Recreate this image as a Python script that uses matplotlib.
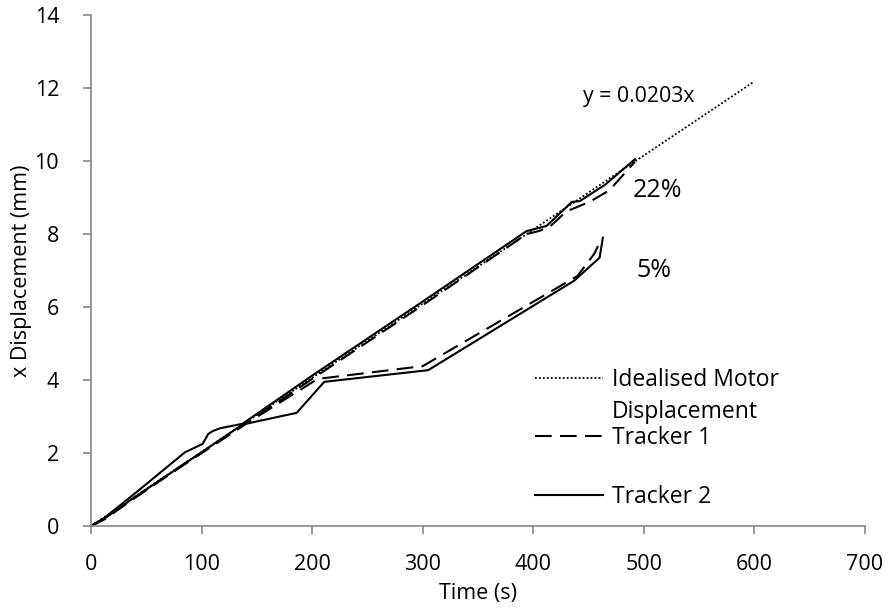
import numpy as np
import matplotlib.pyplot as plt

plt.rcParams["font.family"] = ["Open Sans", "DejaVu Sans"]

# idealised motor travel: y = 0.0203 x
slope = 0.0203
t_ideal = np.array([0, 600])

# run reaching 22% (upper) and run reaching 5% (lower), per tracker
t1_22 = [0, 12, 40, 85, 100, 115, 140, 200, 300, 394, 405, 415, 430, 451, 469, 492]
d1_22 = [0, 0.2, 0.78, 1.72, 2.0, 2.3, 2.8, 4.03, 6.05, 8.0, 8.08, 8.2, 8.62, 8.88, 9.2, 9.98]
t2_22 = [0, 12, 40, 85, 101, 106, 110, 117, 137, 200, 300, 394, 412, 435, 442, 465, 492]
d2_22 = [0, 0.22, 0.9, 2.02, 2.25, 2.52, 2.6, 2.68, 2.8, 4.12, 6.15, 8.08, 8.22, 8.88, 8.9, 9.35, 10.05]

t1_5 = [0, 12, 40, 100, 140, 205, 300, 440, 455, 462]
d1_5 = [0, 0.18, 0.78, 2.0, 2.8, 4.03, 4.38, 6.85, 7.45, 7.88]
t2_5 = [0, 12, 40, 100, 137, 186, 211, 305, 437, 460, 463]
d2_5 = [0, 0.2, 0.8, 2.02, 2.78, 3.1, 3.95, 4.27, 6.72, 7.35, 7.9]

fig, ax = plt.subplots(figsize=(8.88, 6.12), dpi=100)
fig.subplots_adjust(left=0.1025, right=0.974, bottom=0.1405, top=0.9755)

ax.plot(t_ideal, slope * t_ideal, color="black", lw=1.3, linestyle=(0, (1, 1.2)),
        label="Idealised Motor")
dash = (0, (8, 4))
ax.plot(t1_22, d1_22, color="black", lw=1.5, linestyle=dash, label="Tracker 1")
ax.plot(t1_5, d1_5, color="black", lw=1.5, linestyle=dash)
ax.plot(t2_22, d2_22, color="black", lw=1.5, label="Tracker 2")
ax.plot(t2_5, d2_5, color="black", lw=1.5)

ax.text(445, 11.78, "y = 0.0203x", fontsize=15.3, va="center")
ax.text(490, 9.2, "22%", fontsize=18, va="center")
ax.text(493, 7.0, "5%", fontsize=18, va="center")

ax.set_xlim(0, 700)
ax.set_ylim(0, 14)
ax.set_xticks(range(0, 701, 100))
ax.set_yticks(range(0, 15, 2))
ax.set_xlabel("Time (s)", fontsize=15.5, labelpad=6)
ax.set_ylabel("x Displacement (mm)", fontsize=15.5, labelpad=2)

for s in ["top", "right"]:
    ax.spines[s].set_visible(False)
for s in ["left", "bottom"]:
    ax.spines[s].set_color("#868686")
    ax.spines[s].set_linewidth(1.2)
ax.tick_params(direction="out", length=6, width=1.2, color="#868686",
               labelsize=15.5)
ax.tick_params(axis="x", pad=14)
ax.tick_params(axis="y", pad=17)

leg = ax.legend(loc="upper left", bbox_to_anchor=(0.5736, 0.309), frameon=False,
                fontsize=16.5, handlelength=2.97, handletextpad=0.4,
                labelspacing=1.5, borderpad=0, borderaxespad=0)
# second line of the wrapped first legend label, drawn after the legend
ax.annotate("Displacement", xy=(0, 0), xycoords=leg.get_texts()[0],
            xytext=(0, -32), textcoords="offset pixels", fontsize=16.5,
            ha="left", va="bottom", zorder=6)

plt.savefig("out.png", dpi=100)
